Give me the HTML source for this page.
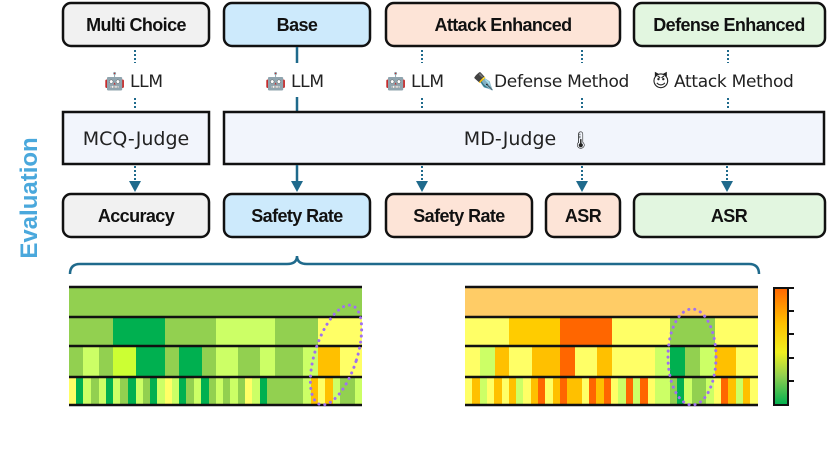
<!DOCTYPE html>
<html><head><meta charset="utf-8"><style>
body{margin:0;background:#fff;}
svg{display:block}
.b{font-family:"Liberation Sans",sans-serif;font-weight:bold;font-size:18px;text-anchor:middle;fill:#111;letter-spacing:-0.6px}
.r{font-family:"DejaVu Sans","Liberation Sans",sans-serif;font-size:19px;text-anchor:middle;fill:#222}
.l{font-family:"DejaVu Sans","Liberation Sans",sans-serif;font-size:17px;fill:#222;letter-spacing:-0.3px}
</style></head><body>
<svg width="832" height="458" viewBox="0 0 832 458" xmlns="http://www.w3.org/2000/svg">
<defs>
<linearGradient id="cb" x1="0" y1="0" x2="0" y2="1">
<stop offset="0" stop-color="#ff6600"/><stop offset="0.3" stop-color="#ffc000"/><stop offset="0.55" stop-color="#f0f020"/><stop offset="0.75" stop-color="#92d050"/><stop offset="1" stop-color="#00b050"/></linearGradient>
</defs>
<rect x="63" y="3" width="146" height="43" rx="8" fill="#f1f1f1" stroke="#111" stroke-width="2.5"/>
<text x="136" y="31" class="b">Multi Choice</text>
<rect x="224" y="3" width="146" height="43" rx="8" fill="#cdeafc" stroke="#111" stroke-width="2.5"/>
<text x="297" y="31" class="b">Base</text>
<rect x="386" y="3" width="234" height="43" rx="8" fill="#fde4d7" stroke="#111" stroke-width="2.5"/>
<text x="503" y="31" class="b">Attack Enhanced</text>
<rect x="634" y="3" width="191" height="43" rx="8" fill="#e2f6e0" stroke="#111" stroke-width="2.5"/>
<text x="729" y="31" class="b">Defense Enhanced</text>
<g stroke="#1f6a8c" stroke-width="2" stroke-dasharray="2,2">
<line x1="135" y1="50" x2="135" y2="63"/><line x1="135" y1="98" x2="135" y2="110"/>
<line x1="422" y1="50" x2="422" y2="63"/><line x1="422" y1="98" x2="422" y2="110"/>
<line x1="582" y1="50" x2="582" y2="63"/><line x1="582" y1="98" x2="582" y2="110"/>
<line x1="728" y1="50" x2="728" y2="63"/><line x1="728" y1="98" x2="728" y2="110"/>
</g>
<g stroke="#1f6a8c" stroke-width="2.5">
<line x1="297" y1="47" x2="297" y2="63"/><line x1="297" y1="97" x2="297" y2="112"/>
</g>
<text x="104" y="87" class="l" font-size="16">🤖</text><text x="130" y="87" class="l">LLM</text>
<text x="265" y="87" class="l" font-size="16">🤖</text><text x="291" y="87" class="l">LLM</text>
<text x="385" y="87" class="l" font-size="16">🤖</text><text x="411" y="87" class="l">LLM</text>
<text x="473" y="87" class="l" font-size="16">✒️</text><text x="494" y="87" class="l">Defense Method</text>
<text x="652" y="87" class="l" font-size="16">😈</text><text x="674" y="87" class="l">Attack Method</text>
<rect x="63" y="112" width="146" height="52" fill="#f2f5fc" stroke="#111" stroke-width="2.5"/>
<text x="136" y="145" class="r">MCQ-Judge</text>
<rect x="224" y="112" width="600" height="52" fill="#f2f5fc" stroke="#111" stroke-width="2.5"/>
<text x="510" y="145" class="r">MD-Judge</text>
<text x="570" y="146" class="l" font-size="16">🌡</text>
<g stroke="#1f6a8c" stroke-width="2" stroke-dasharray="2,2">
<line x1="135" y1="166" x2="135" y2="186"/>
<line x1="422" y1="166" x2="422" y2="186"/>
<line x1="582" y1="166" x2="582" y2="186"/>
<line x1="727" y1="166" x2="727" y2="186"/>
</g>
<line x1="297" y1="165" x2="297" y2="184" stroke="#1f6a8c" stroke-width="2.5"/>
<g fill="#1f6a8c">
<path d="M129,181 L141,181 L135,192 z"/><path d="M291,181 L303,181 L297,192 z"/>
<path d="M416,181 L428,181 L422,192 z"/><path d="M576,181 L588,181 L582,192 z"/>
<path d="M721,181 L733,181 L727,192 z"/>
</g>
<rect x="63" y="194" width="146" height="43" rx="8" fill="#f1f1f1" stroke="#111" stroke-width="2.5"/>
<text x="136" y="222" class="b">Accuracy</text>
<rect x="224" y="194" width="146" height="43" rx="8" fill="#cdeafc" stroke="#111" stroke-width="2.5"/>
<text x="297" y="222" class="b">Safety Rate</text>
<rect x="386" y="194" width="146" height="43" rx="8" fill="#fde4d7" stroke="#111" stroke-width="2.5"/>
<text x="459" y="222" class="b">Safety Rate</text>
<rect x="546" y="194" width="74" height="43" rx="8" fill="#fde4d7" stroke="#111" stroke-width="2.5"/>
<text x="583" y="222" class="b">ASR</text>
<rect x="634" y="194" width="191" height="43" rx="8" fill="#e2f6e0" stroke="#111" stroke-width="2.5"/>
<text x="729" y="222" class="b">ASR</text>
<text transform="translate(37,198) rotate(-90)" font-family="Liberation Sans,sans-serif" font-weight="bold" font-size="24" fill="#4aa8dc" text-anchor="middle">Evaluation</text>
<path d="M70,274 Q70,264 80,264 L287,264 Q297,264 297,256 Q297,264 307,264 L749,264 Q759,264 759,274" fill="none" stroke="#1f6a8c" stroke-width="2.5"/>
<g shape-rendering="crispEdges">
<rect x="69" y="287" width="293" height="30" fill="#92d050"/>
<rect x="69" y="317" width="44" height="29" fill="#92d050"/><rect x="113" y="317" width="52" height="29" fill="#00b050"/><rect x="165" y="317" width="51" height="29" fill="#92d050"/><rect x="216" y="317" width="59" height="29" fill="#ccff66"/><rect x="275" y="317" width="43" height="29" fill="#92d050"/><rect x="318" y="317" width="44" height="29" fill="#ffff66"/>
<rect x="69" y="346" width="14" height="31" fill="#92d050"/><rect x="83" y="346" width="16" height="31" fill="#ccff66"/><rect x="99" y="346" width="14" height="31" fill="#92d050"/><rect x="113" y="346" width="23" height="31" fill="#ccff33"/><rect x="136" y="346" width="29" height="31" fill="#00b050"/><rect x="165" y="346" width="14" height="31" fill="#92d050"/><rect x="179" y="346" width="23" height="31" fill="#00b050"/><rect x="202" y="346" width="14" height="31" fill="#92d050"/><rect x="216" y="346" width="22" height="31" fill="#ccff66"/><rect x="238" y="346" width="22" height="31" fill="#92d050"/><rect x="260" y="346" width="15" height="31" fill="#ccff66"/><rect x="275" y="346" width="28" height="31" fill="#92d050"/><rect x="303" y="346" width="15" height="31" fill="#ccff66"/><rect x="318" y="346" width="22" height="31" fill="#ffc000"/><rect x="340" y="346" width="22" height="31" fill="#ffff66"/>
<g transform="translate(0,377)">
<rect x="69" width="7" height="28" fill="#ffff66"/><rect x="76" width="7" height="28" fill="#00b050"/><rect x="83" width="8" height="28" fill="#ccff66"/><rect x="91" width="8" height="28" fill="#92d050"/><rect x="99" width="7" height="28" fill="#ccff66"/><rect x="106" width="7" height="28" fill="#00b050"/><rect x="113" width="7" height="28" fill="#ccff66"/><rect x="120" width="8" height="28" fill="#92d050"/><rect x="128" width="8" height="28" fill="#00b050"/><rect x="136" width="7" height="28" fill="#ccff66"/><rect x="143" width="7" height="28" fill="#92d050"/><rect x="150" width="7" height="28" fill="#00b050"/><rect x="157" width="8" height="28" fill="#ccff66"/><rect x="165" width="7" height="28" fill="#ffff66"/><rect x="172" width="7" height="28" fill="#ccff66"/><rect x="179" width="7" height="28" fill="#00b050"/><rect x="186" width="8" height="28" fill="#92d050"/><rect x="194" width="7" height="28" fill="#ccff66"/><rect x="201" width="8" height="28" fill="#00b050"/><rect x="209" width="7" height="28" fill="#92d050"/><rect x="216" width="7" height="28" fill="#ccff66"/><rect x="223" width="7" height="28" fill="#92d050"/><rect x="230" width="8" height="28" fill="#ccff66"/><rect x="238" width="7" height="28" fill="#92d050"/><rect x="245" width="7" height="28" fill="#ffff66"/><rect x="252" width="8" height="28" fill="#ccff66"/><rect x="260" width="7" height="28" fill="#00b050"/><rect x="267" width="36" height="28" fill="#92d050"/><rect x="303" width="8" height="28" fill="#ccff66"/><rect x="311" width="7" height="28" fill="#ffc000"/><rect x="318" width="7" height="28" fill="#ffff66"/><rect x="325" width="8" height="28" fill="#ffc000"/><rect x="333" width="7" height="28" fill="#ccff66"/><rect x="340" width="15" height="28" fill="#92d050"/><rect x="355" width="7" height="28" fill="#ccff66"/>
</g>
</g>
<g stroke="#111" stroke-width="2.5">
<line x1="69" y1="287" x2="362" y2="287"/><line x1="69" y1="317" x2="362" y2="317"/><line x1="69" y1="346" x2="362" y2="346"/><line x1="69" y1="377" x2="362" y2="377"/><line x1="69" y1="405" x2="362" y2="405"/>
</g>
<ellipse cx="336" cy="355" rx="21" ry="52" transform="rotate(18 336 355)" fill="none" stroke="#a070f0" stroke-width="3" stroke-dasharray="0.1,6" stroke-linecap="round"/>
<g shape-rendering="crispEdges">
<rect x="465" y="287" width="293" height="30" fill="#ffcc66"/>
<rect x="465" y="317" width="44" height="29" fill="#ffff66"/><rect x="509" y="317" width="51" height="29" fill="#ffcc00"/><rect x="560" y="317" width="52" height="29" fill="#ff6600"/><rect x="612" y="317" width="58" height="29" fill="#ffff66"/><rect x="670" y="317" width="45" height="29" fill="#92d050"/><rect x="715" y="317" width="43" height="29" fill="#ffff66"/>
<rect x="465" y="346" width="15" height="31" fill="#ffff66"/><rect x="480" y="346" width="15" height="31" fill="#ccff66"/><rect x="495" y="346" width="14" height="31" fill="#ffc000"/><rect x="509" y="346" width="23" height="31" fill="#ffff66"/><rect x="532" y="346" width="28" height="31" fill="#ffc000"/><rect x="560" y="346" width="15" height="31" fill="#ff6600"/><rect x="575" y="346" width="22" height="31" fill="#ffff66"/><rect x="597" y="346" width="15" height="31" fill="#ffc000"/><rect x="612" y="346" width="43" height="31" fill="#ffff66"/><rect x="655" y="346" width="15" height="31" fill="#ccff66"/><rect x="670" y="346" width="15" height="31" fill="#00b050"/><rect x="685" y="346" width="15" height="31" fill="#92d050"/><rect x="700" y="346" width="15" height="31" fill="#ccff66"/><rect x="715" y="346" width="21" height="31" fill="#ffc000"/><rect x="736" y="346" width="22" height="31" fill="#ffff66"/>
<g transform="translate(0,377)">
<rect x="465" width="7" height="28" fill="#ffff66"/><rect x="472" width="8" height="28" fill="#ffc000"/><rect x="480" width="7" height="28" fill="#ccff66"/><rect x="487" width="7" height="28" fill="#ffff66"/><rect x="494" width="8" height="28" fill="#ffc000"/><rect x="502" width="7" height="28" fill="#ffff66"/><rect x="509" width="7" height="28" fill="#ffc000"/><rect x="516" width="7" height="28" fill="#ccff66"/><rect x="523" width="8" height="28" fill="#ffff66"/><rect x="531" width="7" height="28" fill="#ffc000"/><rect x="538" width="7" height="28" fill="#ff6600"/><rect x="545" width="8" height="28" fill="#ffff66"/><rect x="553" width="7" height="28" fill="#ffc000"/><rect x="560" width="7" height="28" fill="#ff6600"/><rect x="567" width="15" height="28" fill="#ffc000"/><rect x="582" width="7" height="28" fill="#ffff66"/><rect x="589" width="7" height="28" fill="#ff6600"/><rect x="596" width="8" height="28" fill="#ffc000"/><rect x="604" width="7" height="28" fill="#ff6600"/><rect x="611" width="7" height="28" fill="#ffff66"/><rect x="618" width="8" height="28" fill="#ccff66"/><rect x="626" width="7" height="28" fill="#ff6600"/><rect x="633" width="7" height="28" fill="#ccff66"/><rect x="640" width="8" height="28" fill="#ff6600"/><rect x="648" width="7" height="28" fill="#ffff66"/><rect x="655" width="15" height="28" fill="#ccff66"/><rect x="670" width="7" height="28" fill="#92d050"/><rect x="677" width="7" height="28" fill="#00b050"/><rect x="684" width="8" height="28" fill="#ccff66"/><rect x="692" width="14" height="28" fill="#92d050"/><rect x="706" width="8" height="28" fill="#ccff66"/><rect x="714" width="7" height="28" fill="#ffff66"/><rect x="721" width="7" height="28" fill="#ff6600"/><rect x="728" width="8" height="28" fill="#ffc000"/><rect x="736" width="7" height="28" fill="#ccff66"/><rect x="743" width="7" height="28" fill="#ffc000"/><rect x="750" width="8" height="28" fill="#ffff66"/>
</g>
</g>
<g stroke="#111" stroke-width="2.5">
<line x1="465" y1="287" x2="758" y2="287"/><line x1="465" y1="317" x2="758" y2="317"/><line x1="465" y1="346" x2="758" y2="346"/><line x1="465" y1="377" x2="758" y2="377"/><line x1="465" y1="405" x2="758" y2="405"/>
</g>
<ellipse cx="692" cy="357" rx="24" ry="48" fill="none" stroke="#a070f0" stroke-width="3" stroke-dasharray="0.1,6" stroke-linecap="round"/>
<rect x="774" y="288" width="14" height="117" fill="url(#cb)" stroke="#111" stroke-width="2"/>
<g stroke="#111" stroke-width="2">
<line x1="788" y1="288" x2="794" y2="288"/><line x1="788" y1="311" x2="794" y2="311"/><line x1="788" y1="334" x2="794" y2="334"/><line x1="788" y1="358" x2="794" y2="358"/><line x1="788" y1="381" x2="794" y2="381"/>
</g>
</svg>
</body></html>
